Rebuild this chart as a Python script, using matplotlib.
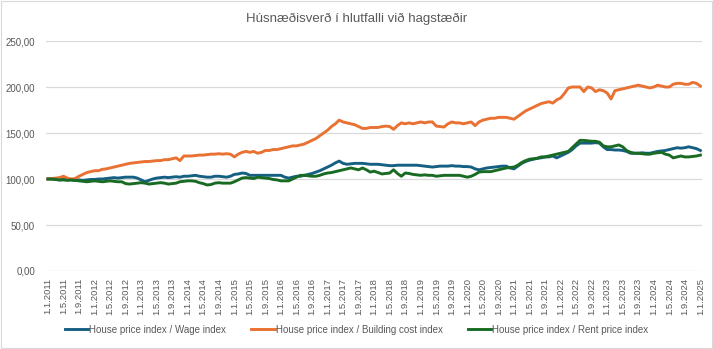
import matplotlib
matplotlib.use('Agg')
import matplotlib.pyplot as plt
from matplotlib.patches import Rectangle
from matplotlib.ticker import FuncFormatter

# monthly data, Jan 2011 - Jan 2025
wage = [
    100, 100, 99.5, 99, 99.5, 99.5, 99, 98.5, 99, 98.5, 99, 99.5,
    99.5, 100, 100, 100.5, 101, 101.5, 101, 101.5, 102, 102, 102, 101,
    99, 97, 98.5, 100, 101, 101.5, 102, 101.5, 102, 102.5, 102, 103,
    103, 103.5, 104, 103, 102.5, 102, 102, 103, 103, 102.5, 102, 103,
    105, 105.5, 106.5, 106, 104, 104, 104, 104, 104, 104, 104, 104,
    104, 102, 101, 102, 103, 103, 104, 105, 106, 107.5, 109, 111,
    113, 115, 117.5, 119.5, 117, 116, 116.5, 117, 117, 117, 116.5, 116,
    116, 116, 115.5, 115, 114.5, 114.5, 115, 115, 115, 115, 115, 115,
    114.5, 114, 113.5, 113, 113.5, 114, 114, 114, 114.5, 114, 114, 113.5,
    113.5, 113, 111, 110, 111, 112, 112.5, 113, 113.5, 114, 114, 112,
    111, 114, 117, 119, 120.5, 121.5, 122.5, 123, 124, 124, 125, 123,
    125, 127, 129, 132, 136, 139, 139, 139, 139, 139.5, 139, 135,
    132, 132, 131.5, 131.5, 131, 130, 128, 128, 128, 128.5, 128, 128,
    129, 130, 130.5, 131, 132, 133, 134, 133.5, 134, 135, 134, 133,
    131,
]
building = [
    100, 100.5, 101, 101.5, 103, 101, 100, 100.5, 103, 105, 107, 108,
    109, 109, 110.5, 111, 112, 113, 114, 115, 116, 117, 117.5, 118,
    118.5, 119, 119, 119.5, 120, 120, 121, 121, 122, 123, 120, 125,
    125, 125, 125.5, 126, 126, 126.5, 127, 127, 127.5, 127, 127.5, 127,
    124, 127, 129, 130, 129, 130, 128, 129, 131, 131, 132, 132,
    133, 134, 135, 136, 136, 137, 138, 140, 142, 144, 147, 150,
    153, 157, 160, 164, 162, 161, 160, 159, 157, 155, 155, 156,
    156, 156, 157, 157.5, 157, 154, 158, 161, 160, 161, 160, 161,
    162, 161, 162, 162, 157.5, 157, 156.5, 160, 162, 161, 161, 160,
    161, 162, 158, 162, 164, 165, 166, 166, 167, 167, 167, 166,
    165, 168, 171, 174, 176, 178, 180, 182, 183, 184, 182.5, 186,
    188, 193, 199, 200, 200, 200, 195, 200, 199, 195, 197, 196,
    193.5, 187, 196, 197, 198, 199, 200, 201, 202, 201, 200, 199,
    200, 202, 201, 200, 200, 203, 204, 204, 203, 203, 205, 204,
    201,
]
rent = [
    100, 100, 99.5, 99, 99, 98.5, 99, 98.5, 98, 97.5, 97, 97.5,
    98, 97.5, 97, 97.5, 98, 97.5, 97, 97, 95, 94.5, 95, 95.5,
    96, 95.5, 94.5, 95, 95.5, 96, 95.5, 94.5, 95, 95.5, 97, 97.5,
    98, 98, 97.5, 96, 95, 93.5, 94, 95.5, 96, 95.5, 95.5, 95.5,
    97, 99, 101, 101.5, 101, 100.5, 102, 101.5, 101, 100.5, 99.5, 99,
    98, 98, 98, 100, 102, 104, 104, 103.5, 103, 103, 104, 105.5,
    106.5, 107, 108, 109, 110, 111, 112, 111, 110, 112, 110, 107.5,
    108.5, 107, 105.5, 106, 106.5, 110, 106, 103, 106.5, 106, 105, 104.5,
    104, 104.5, 104, 104, 103, 103.5, 104, 104, 104, 104, 104, 103,
    102, 103, 105, 107.5, 108, 108, 108, 109, 110, 111, 112, 112.5,
    113, 115, 118, 120, 121.5, 122, 122.5, 124, 124, 125, 126, 127,
    128, 129, 130, 134, 138, 142, 142, 141.5, 141, 141, 140, 136,
    135, 135, 136, 137, 135, 131, 129, 128, 128, 127.5, 127, 127,
    128, 128.5, 129, 127, 126, 123, 124, 125, 124, 124, 124.5, 125,
    126,
]

labels = []
for year in range(2011, 2026):
    for month in range(1, 13):
        labels.append("1.%d.%d" % (month, year))
labels = labels[:len(wage)]

series_names = ["House price index / Wage index",
                "House price index / Building cost index",
                "House price index / Rent price index"]
colors = ["#156082", "#E97132", "#196B24"]

plt.rcParams['font.family'] = ['Liberation Sans', 'DejaVu Sans']

fig = plt.figure(figsize=(7.13, 3.49), dpi=100)
ax = fig.add_axes([0.0645, 0.2235, 0.9205, 0.659])

x = list(range(len(wage)))
for vals, name, c in zip([wage, building, rent], series_names, colors):
    ax.plot(x, vals, color=c, lw=2.1, label=name, solid_joinstyle='round')

ax.set_xlim(-0.5, len(wage) - 0.5)
ax.set_ylim(0, 250)
ax.set_yticks([0, 50, 100, 150, 200, 250])
ax.yaxis.set_major_formatter(FuncFormatter(lambda v, p: ("%.2f" % v).replace(".", ",")))
ax.set_xticks(x[::4])
ax.set_xticklabels(labels[::4], rotation=90, fontsize=6.8)
ax.grid(axis='y', color='#d9d9d9', lw=0.9)
ax.set_axisbelow(True)
for s in ax.spines.values():
    s.set_visible(False)
ax.tick_params(axis='both', length=0, labelcolor='#595959')
ax.tick_params(axis='y', pad=8, labelsize=7)
ax.tick_params(axis='x', pad=5)

fig.text(0.5, 0.945, "Húsnæðisverð í hlutfalli við hagstæðir", ha='center', va='center',
         fontsize=9.5, color='#595959')

fig.legend(loc='center', bbox_to_anchor=(0.5, 0.055), ncol=3, frameon=False,
           fontsize=7, labelcolor='#595959', handlelength=2.4, handletextpad=0.1,
           columnspacing=2.6)

# light frame round the chart
fig.patches.append(Rectangle((0.002, 0.003), 0.996, 0.994, transform=fig.transFigure,
                             fill=False, edgecolor='#d9d9d9', lw=0.8))

fig.savefig("out.png", dpi=100)
